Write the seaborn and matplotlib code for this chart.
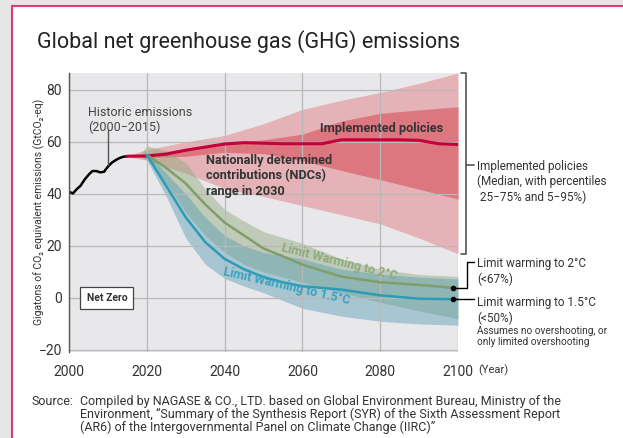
import numpy as np
import pandas as pd
import seaborn as sns
import matplotlib.pyplot as plt
from matplotlib.patches import Rectangle

# ---- data ----
hist_years = list(range(2000, 2016))
hist_vals = [40.8, 40.2, 41.8, 43.2, 45.5, 47.3, 48.8, 48.8, 48.3, 48.5,
             50.5, 52.0, 53.0, 53.8, 54.3, 54.5]

pol_years = [2015, 2020, 2025, 2030, 2035, 2040, 2045, 2050, 2055, 2060,
             2065, 2070, 2075, 2080, 2085, 2090, 2095, 2100]
pol_median = [54.5, 54.6, 55.3, 56.8, 58.0, 59.2, 59.7, 59.5, 59.3, 59.3,
              59.3, 60.8, 60.8, 60.8, 60.8, 60.6, 59.3, 59.0]

band_years = [2015, 2020, 2030, 2040, 2050, 2060, 2070, 2080, 2090, 2100]
pol_p95 = [54.8, 57.0, 60.0, 62.5, 67.0, 72.5, 76.0, 79.0, 82.5, 86.5]
pol_p5 = [54.2, 53.0, 48.0, 42.0, 39.0, 35.5, 32.0, 28.5, 23.0, 17.0]
pol_p75 = [54.6, 55.2, 57.5, 59.5, 60.8, 63.0, 68.0, 71.0, 72.3, 73.5]
pol_p25 = [54.4, 54.0, 54.5, 56.0, 55.5, 52.8, 49.0, 45.5, 41.8, 38.0]

path_years = [2018, 2020, 2025, 2030, 2035, 2040, 2045, 2050, 2060, 2070, 2080, 2090, 2100]
c2_upper = [54.5, 58.5, 56.5, 52.0, 42.0, 34.0, 29.5, 25.5, 21.0, 15.0, 11.0, 9.0, 8.3]
c2_lower = [54.5, 53.5, 44.0, 33.0, 24.0, 17.5, 13.0, 10.0, 6.0, 2.0, -1.7, -5.0, -8.0]
c15_upper = [54.5, 56.0, 48.0, 40.0, 31.0, 24.0, 20.0, 17.5, 15.0, 11.0, 9.2, 8.0, 7.3]
c15_lower = [54.5, 53.0, 39.0, 23.0, 13.0, 7.5, 4.5, 2.0, -4.0, -7.0, -9.0, -10.0, -10.5]

med_years = [2020, 2025, 2030, 2035, 2040, 2045, 2050, 2055, 2060, 2070, 2080, 2090, 2100]
c2_median = [55.0, 50.0, 44.0, 36.0, 29.0, 24.0, 19.0, 16.0, 12.8, 8.2, 6.0, 5.0, 3.7]
c15_median = [55.0, 43.0, 31.0, 21.5, 15.0, 11.0, 8.0, 6.0, 4.5, 3.2, 1.0, -0.3, -0.5]

x_ticks = [2000, 2020, 2040, 2060, 2080, 2100]
y_ticks = [-20, 0, 20, 40, 60, 80]

# ---- style ----
sns.set_style("white")
plt.rcParams['font.family'] = ['Roboto', 'DejaVu Sans']

W, H = 623, 438
fig = plt.figure(figsize=(W / 100, H / 100), dpi=100)
fig.patch.set_facecolor('#e6e6e6')
fig.add_artist(Rectangle((12 / W, -0.05), 1.0, 1.05 - 6 / H, transform=fig.transFigure,
                         facecolor='white', edgecolor='#e23c6e', lw=1.5, zorder=0))

def fx(px):
    return px / W

def fy(py):
    return 1 - py / H

ax = fig.add_axes([fx(69), fy(352), (458 - 69) / W, (352 - 73) / H])
ax.set_facecolor('#e8e8ea')

# bands
ax.fill_between(band_years, pol_p5, pol_p95, color='#e5b3b7', lw=0, zorder=1)
ax.fill_between(band_years, pol_p25, pol_p75, color='#dc777f', lw=0, zorder=1)
ax.fill_between(path_years, c2_lower, c2_upper, color='#8ea67c', alpha=0.45, lw=0, zorder=1.1)
ax.fill_between(path_years, c15_lower, c15_upper, color='#4f98b3', alpha=0.42, lw=0, zorder=1.2)

# lines
sns.lineplot(x=hist_years, y=hist_vals, color='black', lw=1.8, ax=ax)
sns.lineplot(x=pol_years, y=pol_median, color='#c4003c', lw=2.2, ax=ax)
sns.lineplot(x=med_years, y=c2_median, color='#7f9e68', lw=1.8, ax=ax)
sns.lineplot(x=med_years, y=c15_median, color='#2b9cb6', lw=1.8, ax=ax)

ax.set_xlim(2000, 2100)
ax.set_ylim(-20.8, 86.5)
ax.set_xticks(x_ticks)
ax.set_yticks(y_ticks)
ax.set_xticklabels([str(v) for v in x_ticks])
ax.set_yticklabels([f"{v}".replace('-', '\u2212') for v in y_ticks])
ax.tick_params(axis='both', length=0, labelsize=10, colors='#333333')
ax.tick_params(axis='x', pad=9)
ax.tick_params(axis='y', pad=5)
ax.grid(True, color='#b8b8b8', lw=0.9)
ax.set_axisbelow('line')
for s in ['top', 'right', 'bottom']:
    ax.spines[s].set_visible(False)
ax.spines['left'].set_color('#555555')
ax.spines['left'].set_linewidth(1.0)

# in-plot labels
ax.text(2004.9, 73.8, "Historic emissions\n(2000\u22122015)", fontsize=9, color='#444444',
        va='top', ha='left', linespacing=1.2)
ax.plot([2009.9, 2009.9], [51.2, 64.4], color='#555555', lw=1.0)
ax.text(2064.5, 65.2, "Implemented policies", fontsize=9.2, fontweight='bold', color='#333333',
        va='center', ha='left')
ax.text(2035.2, 55.5, "Nationally determined\ncontributions (NDCs)\nrange in 2030", fontsize=9.2,
        fontweight='bold', color='#333333', va='top', ha='left', linespacing=1.25)
ax.text(2004.5, 0, "Net Zero", fontsize=7.5, fontweight='bold', color='#333333', va='center', ha='left',
        bbox=dict(boxstyle='square,pad=0.6', facecolor='white', edgecolor='#444444', lw=0.9))
ax.text(2069.5, 13.8, "Limit Warming to 2\u00b0C", fontsize=9, fontweight='bold', color='#8daa7a',
        rotation=-14, ha='center', va='center', rotation_mode='anchor')
ax.text(2056, 4.4, "Limit Warming to 1.5\u00b0C", fontsize=9, fontweight='bold', color='#3ba2c0',
        rotation=-13, ha='center', va='center', rotation_mode='anchor')

# right-hand brackets
br = '#555555'
ax.plot([2100.8, 2102, 2102, 2100.8], [86.5, 86.5, 16.9, 16.9], color=br, lw=1.2, clip_on=False)
ax.plot([2102, 2104], [51.2, 51.2], color=br, lw=1.2, clip_on=False)
ax.plot([2098.6], [3.7], 'o', color='black', ms=3, clip_on=False)
ax.plot([2098.6, 2102.2, 2102.2, 2104], [3.7, 3.7, 13.7, 13.7], color='black', lw=1.0, clip_on=False)
ax.plot([2098.6], [-0.6], 'o', color='black', ms=3, clip_on=False)
ax.plot([2098.6, 2104], [-0.6, -0.6], color='black', lw=1.0, clip_on=False)

fig.text(fx(477), fy(160), "Implemented policies\n(Median, with percentiles\n 25\u221275% and 5\u221295%)",
         fontsize=8.5, color='#333333', va='top', ha='left', linespacing=1.18)
fig.text(fx(477), fy(257.5), "Limit warming to 2\u00b0C\n(<67%)", fontsize=8.5, color='#333333',
         va='top', ha='left', linespacing=1.22)
fig.text(fx(477), fy(296), "Limit warming to 1.5\u00b0C\n(<50%)", fontsize=8.5, color='#333333',
         va='top', ha='left', linespacing=1.22)
fig.text(fx(477), fy(326), "Assumes no overshooting, or\nonly limited overshooting", fontsize=7.2,
         color='#333333', va='top', ha='left', linespacing=1.1)
fig.text(fx(478), fy(370), "(Year)", fontsize=8, color='#333333', va='center', ha='left')

# title, axis label, source
fig.text(fx(37), fy(42), "Global net greenhouse gas (GHG) emissions", fontsize=15.5, color='#222222',
         va='center', ha='left')
fig.text(fx(39), fy(212), "Gigatons of CO\u2082 equivalent emissions (GtCO\u2082-eq)", fontsize=7.5,
         color='#333333', rotation=90, va='center', ha='center')
fig.text(fx(32), fy(395), "Source:", fontsize=9, color='#333333', va='top', ha='left')
fig.text(fx(80), fy(395),
         "Compiled by NAGASE & CO., LTD. based on Global Environment Bureau, Ministry of the\n"
         "Environment, \u201cSummary of the Synthesis Report (SYR) of the Sixth Assessment Report\n"
         "(AR6) of the Intergovernmental Panel on Climate Change (IIRC)\u201d",
         fontsize=9, color='#333333', va='top', ha='left', linespacing=0.95)

fig.savefig('out.png', dpi=100, facecolor=fig.get_facecolor())
